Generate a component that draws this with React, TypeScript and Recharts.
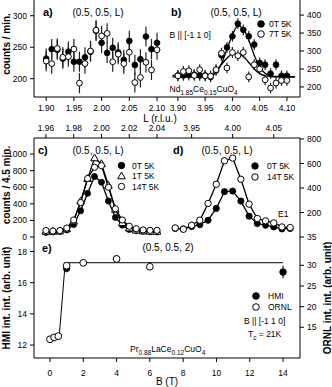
import React from "react";
import { ComposedChart, Scatter, Line, XAxis, YAxis, ErrorBar } from "recharts";

// panel a) / b): (0.5, 0.5, L) scans, 0T and 7T at 5K
const aL = [1.9, 1.91, 1.92, 1.93, 1.94, 1.95, 1.96, 1.97, 1.98, 1.99, 2.0, 2.01, 2.02, 2.03, 2.04, 2.05, 2.06, 2.07, 2.08, 2.09, 2.1];
const a0T = [232, 247, 246, 232, 243, 227, 227, 234, 243, 276, 257, 241, 249, 242, 230, 260, 222, 231, 267, 247, 257];
const a7T = [228, 224, 248, 234, 235, 247, 193, 224, 244, 277, 268, 272, 227, 239, 224, 242, 194, 202, 226, 214, 246];
const aErr = 16;

const bL = [3.9, 3.91, 3.92, 3.93, 3.94, 3.95, 3.96, 3.97, 3.98, 3.99, 4.0, 4.01, 4.02, 4.03, 4.04, 4.05, 4.06, 4.07, 4.08, 4.09, 4.1];
const b0T = [232, 232, 233, 234, 232, 232, 228, 246, 288, 310, 341, 376, 359, 341, 318, 267, 262, 237, 262, 231, 231];
const b7T = [231, 243, 245, 232, 248, 231, 230, 248, 294, 253, 296, 287, 296, 228, 262, 250, 220, 197, 211, 218, 218];
const bErr = 15;
const bFitL = [3.89, 3.95, 3.96, 3.97, 3.98, 3.99, 4.0, 4.01, 4.02, 4.03, 4.04, 4.05, 4.06, 4.07, 4.08, 4.115];
const bFit0T = [228, 228, 230, 240, 265, 305, 345, 370, 362, 330, 288, 255, 238, 231, 229, 228];
const bFit7T = [232, 232, 234, 245, 263, 280, 292, 293, 285, 268, 250, 237, 231, 229, 228, 228];

// panel c) 0T / 1T / 14T
const cL = [1.96, 1.965, 1.97, 1.975, 1.98, 1.985, 1.99, 1.995, 2.0, 2.005, 2.01, 2.015, 2.02, 2.025, 2.03, 2.035, 2.04];
const c0T = [55, 60, 65, 85, 150, 316, 526, 729, 660, 433, 235, 142, 90, 75, 68, 62, 60];
const c1T = [65, 65, 70, 95, 190, 430, 700, 950, 880, 620, 330, 170, 105, 80, 70, 65, 65];
const c14T = [78, 72, 78, 108, 205, 415, 705, 840, 860, 600, 340, 205, 130, 100, 85, 80, 80];

// panel d) 0T / 14T
const dL = [3.93, 3.94, 3.95, 3.96, 3.97, 3.98, 3.99, 4.0, 4.01, 4.02, 4.03, 4.04, 4.05, 4.06, 4.07];
const d0T = [70, 66, 85, 101, 137, 233, 370, 375, 293, 170, 110, 96, 82, 66, 70];
const d14T = [74, 63, 96, 137, 274, 430, 622, 644, 471, 268, 151, 132, 115, 82, 77];

// panel e) integrated intensity vs field
const eHmiB = [1, 14];
const eHmi = [16.92, 16.68];
const eHmiErr = [0.25, 0.4];
const eOrnlB = [0, 0.25, 0.5, 1, 2, 4, 6];
const eOrnl = [12.1, 12.55, 12.85, 29.9, 30.6, 31.55, 29.65];
const eOrnlErr = [0.2, 0.2, 0.2, 0.4, 0.5, 0.8, 0.4];
const eFitB = [0.56, 0.9, 1.04, 14];
const eFitHmi = [12.62, 17.07, 17.28, 17.28];

const aTicksX = [1.9, 1.95, 2.0, 2.05, 2.1];
const aTicksY = [200, 250, 300];
const bTicksX = [3.9, 3.95, 4.0, 4.05, 4.1];
const bTicksY = [200, 250, 300, 350, 400];
const cTicksX = [1.96, 1.98, 2.0, 2.02, 2.04];
const cTicksY = [0, 200, 400, 600, 800, 1000];
const dTicksX = [3.95, 4.0, 4.05];
const dTicksY = [0, 200, 400, 600, 800];
const eTicksX = [0, 2, 4, 6, 8, 10, 12, 14];
const eTicksHmi = [12, 14, 16, 18];
const eTicksOrnl = [15, 20, 25, 30];

const rows = (xs: number[], ys: number[], err?: number | number[]) =>
  xs.map((x, i) => ({
    x,
    y: ys[i],
    e: err === undefined ? 0 : Array.isArray(err) ? err[i] : err,
  }));

const FONT = "'Liberation Sans', Arial, sans-serif";
const tickStyle = { fontSize: 8.5, fill: "#000", fontFamily: FONT };
const axisCommon = {
  stroke: "#000",
  tickSize: 4,
  tickMargin: 3,
  tick: tickStyle,
  allowDataOverflow: true,
  type: "number" as const,
  interval: 0 as const,
};
const noMargin = { top: 0, right: 0, bottom: 0, left: 0 };
// c) and d) keep 8px below the frame so the lowest tick label is not cut
const lowMargin = { top: 0, right: 0, bottom: 8, left: 0 };

const dotFilled = (r: number) => (p: any) =>
  <circle key={`f${p.index}`} cx={p.cx} cy={p.cy} r={r} fill="#000" stroke="#000" strokeWidth={0.8} />;
const dotOpen = (r: number) => (p: any) =>
  <circle key={`o${p.index}`} cx={p.cx} cy={p.cy} r={r} fill="#fff" stroke="#000" strokeWidth={1} />;
const dotTri = (p: any) => (
  <path
    key={`t${p.index}`}
    d={`M${p.cx},${p.cy - 4.2}L${p.cx + 3.8},${p.cy + 2.6}L${p.cx - 3.8},${p.cy + 2.6}Z`}
    fill="#fff"
    stroke="#000"
    strokeWidth={1}
  />
);

const fix2 = (v: number) => v.toFixed(2);

function PanelA() {
  return (
    <ComposedChart width={167} height={115} margin={noMargin}>
      <XAxis {...axisCommon} dataKey="x" domain={[1.878, 2.118]} ticks={aTicksX} tickFormatter={fix2} height={18} tickMargin={4} />
      <YAxis {...axisCommon} dataKey="y" domain={[171, 325]} ticks={aTicksY} width={34} />
      <YAxis yAxisId="r" orientation="right" type="number" domain={[0, 1]} width={0} tick={false} tickLine={false} stroke="#777" />
      <Scatter data={rows(aL, a0T, aErr)} shape={dotFilled(2.9)} isAnimationActive={false}>
        <ErrorBar dataKey="e" direction="y" width={0} stroke="#222" strokeWidth={1.2} />
      </Scatter>
      <Scatter data={rows(aL, a7T, aErr)} shape={dotOpen(2.9)} isAnimationActive={false}>
        <ErrorBar dataKey="e" direction="y" width={0} stroke="#222" strokeWidth={1.2} />
      </Scatter>
    </ComposedChart>
  );
}

function PanelB() {
  return (
    <ComposedChart width={165} height={115} margin={noMargin}>
      <XAxis {...axisCommon} dataKey="x" domain={[3.88, 4.124]} ticks={bTicksX} tickFormatter={fix2} height={18} tickMargin={4} />
      <YAxis {...axisCommon} dataKey="y" orientation="right" domain={[172, 442]} ticks={bTicksY} width={32} />
      <Line data={rows(bFitL, bFit0T)} dataKey="y" type="monotone" stroke="#000" strokeWidth={1.3} dot={false} isAnimationActive={false} />
      <Line data={rows(bFitL, bFit7T)} dataKey="y" type="monotone" stroke="#000" strokeWidth={1.3} dot={false} isAnimationActive={false} />
      <Scatter data={rows(bL, b0T, bErr)} shape={dotFilled(2.9)} isAnimationActive={false}>
        <ErrorBar dataKey="e" direction="y" width={0} stroke="#222" strokeWidth={1.2} />
      </Scatter>
      <Scatter data={rows(bL, b7T, bErr)} shape={dotOpen(2.9)} isAnimationActive={false}>
        <ErrorBar dataKey="e" direction="y" width={0} stroke="#222" strokeWidth={1.2} />
      </Scatter>
    </ComposedChart>
  );
}

function PanelC() {
  return (
    <ComposedChart width={167} height={125} margin={lowMargin}>
      <XAxis {...axisCommon} dataKey="x" orientation="top" domain={[1.9514, 2.0472]} ticks={cTicksX} tickFormatter={fix2} height={18} />
      <YAxis {...axisCommon} dataKey="y" domain={[0, 1193]} ticks={cTicksY} width={34} />
      <YAxis yAxisId="r" orientation="right" type="number" domain={[0, 1]} width={0} tick={false} tickLine={false} stroke="#000" />
      <Line data={rows(cL, c0T)} dataKey="y" type="linear" stroke="#000" strokeWidth={1.3} dot={dotFilled(3)} isAnimationActive={false} />
      <Line data={rows(cL, c1T)} dataKey="y" type="linear" stroke="#000" strokeWidth={1.3} dot={dotTri} isAnimationActive={false} />
      <Line data={rows(cL, c14T)} dataKey="y" type="linear" stroke="#000" strokeWidth={1.3} dot={dotOpen(3.1)} isAnimationActive={false} />
    </ComposedChart>
  );
}

function PanelD() {
  return (
    <ComposedChart width={165} height={125} margin={lowMargin}>
      <XAxis {...axisCommon} dataKey="x" orientation="top" domain={[3.92, 4.082]} ticks={dTicksX} tickFormatter={fix2} height={18} />
      <YAxis
        {...axisCommon}
        dataKey="y"
        orientation="right"
        domain={[0, 808]}
        ticks={dTicksY}
        tickFormatter={(v: number) => (v === 0 ? "35" : `${v}`)}
        width={32}
      />
      <Line data={rows(dL, d0T)} dataKey="y" type="linear" stroke="#000" strokeWidth={1.3} dot={dotFilled(3.1)} isAnimationActive={false} />
      <Line data={rows(dL, d14T)} dataKey="y" type="linear" stroke="#000" strokeWidth={1.3} dot={dotOpen(3.2)} isAnimationActive={false} />
    </ComposedChart>
  );
}

function PanelE() {
  return (
    <ComposedChart width={332} height={150} margin={noMargin}>
      <XAxis {...axisCommon} dataKey="x" domain={[-0.96, 15.02]} ticks={eTicksX} height={29} tickMargin={8} />
      <XAxis xAxisId="top" orientation="top" type="number" domain={[0, 1]} height={0} tick={false} tickLine={false} stroke="#000" />
      <YAxis {...axisCommon} yAxisId="h" dataKey="y" domain={[11.17, 18.93]} ticks={eTicksHmi} width={34} />
      <YAxis {...axisCommon} yAxisId="o" dataKey="y" orientation="right" domain={[7.57, 36.85]} ticks={eTicksOrnl} width={32} />
      <Line yAxisId="h" data={rows(eFitB, eFitHmi)} dataKey="y" type="linear" stroke="#000" strokeWidth={1} dot={false} isAnimationActive={false} />
      <Scatter yAxisId="h" data={rows(eHmiB, eHmi, eHmiErr)} shape={dotFilled(3.3)} isAnimationActive={false}>
        <ErrorBar dataKey="e" direction="y" width={0} stroke="#222" strokeWidth={1.2} />
      </Scatter>
      <Scatter yAxisId="o" data={rows(eOrnlB, eOrnl, eOrnlErr)} shape={dotOpen(3.4)} isAnimationActive={false}>
        <ErrorBar dataKey="e" direction="y" width={0} stroke="#222" strokeWidth={1.2} />
      </Scatter>
    </ComposedChart>
  );
}

const SUB = { fontSize: 6.5 };

function Annotations() {
  const t = { fontFamily: FONT, fill: "#000" };
  return (
    <svg width={332} height={387} style={{ position: "absolute", left: 0, top: 0, pointerEvents: "none" }}>
      <g {...t}>
        <text x={6.5} y={44} fontSize={10} fontWeight="bold" textAnchor="middle" dominantBaseline="central" transform="rotate(-90 6.5 44)">counts / min.</text>
        <text x={6.5} y={185} fontSize={10} fontWeight="bold" textAnchor="middle" dominantBaseline="central" transform="rotate(-90 6.5 185)">counts / 4.5 min.</text>
        <text x={6.5} y={298} fontSize={10} fontWeight="bold" textAnchor="middle" dominantBaseline="central" transform="rotate(-90 6.5 298)">HMI int. int. (arb. unit)</text>
        <text x={327} y={298} fontSize={10} fontWeight="bold" textAnchor="middle" dominantBaseline="central" transform="rotate(-90 327 298)">ORNL int. int. (arb. unit)</text>

        <text x={43} y={15.5} fontSize={11} fontWeight="bold">a)</text>
        <text x={98} y={15.5} fontSize={10} textAnchor="middle">(0.5, 0.5, L)</text>
        <text x={171} y={15.5} fontSize={11} fontWeight="bold">b)</text>
        <text x={236} y={15.5} fontSize={10} textAnchor="middle">(0.5, 0.5, L)</text>
        <circle cx={261} cy={24} r={3.3} fill="#000" stroke="#000" />
        <text x={269} y={27} fontSize={8.5}>0T 5K</text>
        <circle cx={261} cy={34} r={3.3} fill="#fff" stroke="#000" />
        <text x={269} y={37} fontSize={8.5}>7T 5K</text>
        <text x={169.5} y={38} fontSize={8.5}>B || [-1 1 0]</text>
        <text x={169.5} y={92} fontSize={8.5}>
          Nd<tspan dy={2.5} {...SUB}>1.85</tspan>
          <tspan dy={-2.5}>Ce</tspan>
          <tspan dy={2.5} {...SUB}>0.15</tspan>
          <tspan dy={-2.5}>CuO</tspan>
          <tspan dy={2.5} {...SUB}>4</tspan>
        </text>
        <text x={160} y={122} fontSize={10} textAnchor="middle">L (r.l.u.)</text>

        <text x={38} y={154} fontSize={11} fontWeight="bold">c)</text>
        <text x={98} y={154} fontSize={10} textAnchor="middle">(0.5, 0.5, L)</text>
        <circle cx={121.5} cy={165.5} r={3.2} fill="#000" stroke="#000" />
        <text x={132} y={168.5} fontSize={8.5}>0T 5K</text>
        <path d="M121.5,172 L125.3,178.8 L117.7,178.8 Z" fill="#fff" stroke="#000" />
        <text x={132} y={179} fontSize={8.5}>1T 5K</text>
        <circle cx={121.5} cy={186.5} r={3.2} fill="#fff" stroke="#000" />
        <text x={132} y={189.5} fontSize={8.5}>14T 5K</text>

        <text x={173} y={154} fontSize={11} fontWeight="bold">d)</text>
        <text x={227} y={154} fontSize={10} textAnchor="middle">(0.5, 0.5, L)</text>
        <circle cx={255} cy={166} r={3.2} fill="#000" stroke="#000" />
        <text x={267} y={169} fontSize={8.5}>0T 5K</text>
        <circle cx={255} cy={177} r={3.2} fill="#fff" stroke="#000" />
        <text x={267} y={180} fontSize={8.5}>14T 5K</text>
        <text x={278} y={217} fontSize={8.5}>E1</text>

        <text x={42} y={252} fontSize={11} fontWeight="bold">e)</text>
        <text x={168} y={251} fontSize={10} textAnchor="middle">(0.5, 0.5, 2)</text>
        <circle cx={256} cy={296} r={3.3} fill="#000" stroke="#000" />
        <text x={268} y={299} fontSize={8.5}>HMI</text>
        <circle cx={256} cy={307} r={3.3} fill="#fff" stroke="#000" />
        <text x={268} y={310} fontSize={8.5}>ORNL</text>
        <text x={244} y={324} fontSize={8.5}>B || [-1 1 0]</text>
        <text x={248} y={337} fontSize={8.5}>
          T<tspan dy={2.5} {...SUB}>c</tspan>
          <tspan dy={-2.5}> = 21K</tspan>
        </text>
        <text x={130} y={352} fontSize={8.5}>
          Pr<tspan dy={2.5} {...SUB}>0.88</tspan>
          <tspan dy={-2.5}>LaCe</tspan>
          <tspan dy={2.5} {...SUB}>0.12</tspan>
          <tspan dy={-2.5}>CuO</tspan>
          <tspan dy={2.5} {...SUB}>4</tspan>
        </text>
        <text x={167} y={385} fontSize={10} textAnchor="middle">B (T)</text>
      </g>
    </svg>
  );
}

export default function App() {
  const at = (left: number, top: number): React.CSSProperties => ({ position: "absolute", left, top });
  return (
    <div style={{ position: "absolute", left: 0, top: 0, width: 332, height: 387, background: "#fff", fontFamily: FONT }}>
      <div style={at(0, 0)}><PanelA /></div>
      <div style={at(167, 0)}><PanelB /></div>
      <div style={at(0, 120)}><PanelC /></div>
      <div style={at(167, 120)}><PanelD /></div>
      <div style={at(0, 237)}><PanelE /></div>
      <Annotations />
    </div>
  );
}
